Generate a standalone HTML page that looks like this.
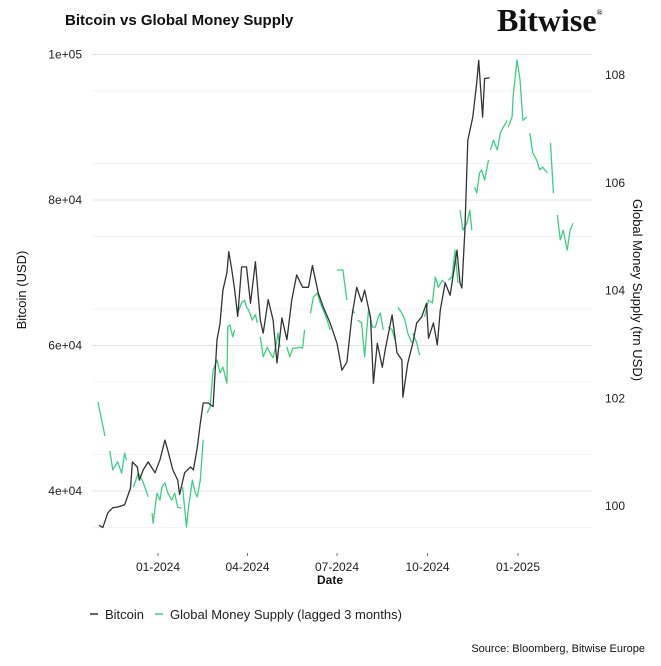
<!DOCTYPE html>
<html><head><meta charset="utf-8"><style>
body{margin:0;background:#fff;font-family:"Liberation Sans",Arial,sans-serif}
svg text{font-family:"Liberation Sans",Arial,sans-serif}
</style></head><body>
<svg id="c" width="661" height="661" viewBox="0 0 661 661">
<rect width="661" height="661" fill="#fff"/>
<text x="65" y="25" font-size="15" font-weight="bold" fill="#111">Bitcoin vs Global Money Supply</text>
<text x="497" y="31" font-size="32" font-weight="bold" fill="#111" style="font-family:'Liberation Serif',serif">Bitwise<tspan font-size="8" dy="-16">®</tspan></text>
<g id="grid"></g><g id="ms"></g><g id="btc"></g><g id="axes"></g>
<text x="330" y="584" font-size="12" font-weight="bold" text-anchor="middle" fill="#111">Date</text>
<text transform="translate(26,290) rotate(-90)" font-size="13" text-anchor="middle" fill="#111">Bitcoin (USD)</text>
<text transform="translate(633,290) rotate(90)" font-size="13" text-anchor="middle" fill="#111">Global Money Supply (trn USD)</text>
<g>
<line x1="90" y1="614" x2="98" y2="614" stroke="#333" stroke-width="1.5"/>
<text x="105" y="619" font-size="13" fill="#222">Bitcoin</text>
<line x1="155" y1="614" x2="163" y2="614" stroke="#3ecf83" stroke-width="1.5"/>
<text x="170" y="619" font-size="13" fill="#222">Global Money Supply (lagged 3 months)</text>
</g>
<text x="645" y="652" font-size="11" text-anchor="end" fill="#111">Source: Bloomberg, Bitwise Europe</text>
</svg>
<script>
const btcDays=[-60,-56,-51,-46,-41,-34,-28,-26,-21,-19,-15,-10,-3,2,7,10,15,20,22,27,33,36,40,43,46,51,56,60,63,66,70,72,75,78,81,85,90,94,99,104,107,112,117,121,126,131,136,141,147,153,157,163,168,175,182,187,192,197,202,207,210,216,219,223,228,231,238,243,248,249,254,259,263,268,273,275,280,284,287,292,297,302,304,307,309,312,315,320,324,326,330,332,337];
const btcVals=[35.3,35.0,37.0,37.7,37.8,38.1,40.4,44.0,43.3,41.5,42.9,44.0,42.5,44.3,47.0,45.6,42.9,41.5,39.5,42.5,43.3,42.9,46.0,49.3,52.1,52.1,51.6,60.8,63.0,67.6,70.0,72.9,70.4,67.6,64.0,70.8,70.8,65.8,71.5,63.5,61.7,66.3,63.5,57.6,63.8,60.8,66.3,69.7,68.0,68.0,71.0,67.2,65.3,63.1,60.3,56.6,57.7,63.9,68.0,66.0,67.6,63.9,54.8,60.3,57.0,59.4,64.2,59.0,58.0,52.9,57.6,60.3,63.1,63.9,65.8,61.0,63.1,60.1,64.9,68.6,66.9,71.3,73.1,68.6,67.9,75.9,88.2,91.4,96.1,99.2,91.4,96.7,96.8];
const msDays=[-61,-54,null,-49,-46,-41,-37,-34,-32,null,-25,-20,-16,-13,-10,null,-6,-5,-1,2,4,7,10,14,17,20,24,null,25,29,31,35,38,40,43,46,null,50,53,56,60,63,66,70,71,73,76,78,null,81,85,88,90,92,96,99,101,null,104,107,111,114,117,121,122,124,null,131,134,137,141,144,147,149,null,155,158,162,165,168,172,175,null,182,185,188,192,null,197,200,null,203,207,210,214,218,221,224,226,229,null,234,238,241,null,244,248,251,254,258,null,259,263,266,null,271,275,279,282,285,289,292,null,295,299,302,305,null,307,310,314,317,319,null,322,324,327,329,332,336,null,338,341,345,348,351,355,null,356,360,361,365,368,371,375,null,378,381,385,388,391,396,null,399,402,null,406,409,412,416,419,422];
const msVals=[101.93,101.30,null,101.02,100.67,100.82,100.61,100.98,100.85,null,100.35,100.61,100.48,100.33,100.17,null,99.87,99.68,100.24,100.11,100.35,100.43,100.24,100.11,100.24,99.98,99.96,null,100.35,99.61,99.98,100.48,100.24,100.17,100.48,101.23,null,101.73,101.84,102.52,102.71,102.47,102.58,102.28,103.32,103.36,103.14,103.27,null,103.58,103.77,103.82,103.69,103.64,103.45,103.55,103.40,null,103.14,102.77,102.95,102.84,102.75,103.08,103.21,102.95,null,102.95,102.77,102.93,102.93,102.95,102.93,103.27,null,103.58,103.88,103.95,103.77,103.64,103.45,103.27,null,104.38,104.38,104.38,103.82,null,103.64,103.58,null,103.45,103.40,102.77,103.64,103.32,103.32,103.51,103.58,103.27,null,103.32,103.27,103.08,null,103.69,103.58,103.45,103.21,103.03,null,103.21,103.03,102.80,null,103.51,103.82,103.77,104.25,104.06,104.19,104.14,null,104.19,104.25,104.75,104.14,null,105.49,105.12,105.25,105.49,105.12,null,105.92,105.81,106.18,106.24,106.05,106.42,null,106.61,106.79,106.61,106.92,107.03,107.16,null,107.03,107.22,107.59,108.28,107.91,107.16,107.22,null,106.92,106.55,106.42,106.24,106.29,106.18,null,106.74,105.81,null,105.40,104.94,105.12,104.75,105.12,105.25];
const leftTicks=[40,60,80,100];
const leftLabels=["4e+04","6e+04","8e+04","1e+05"];
const rightTicks=[100,102,104,106,108];
const xTickDays=[0,91,182,274,366];
const xTickLabels=["01-2024","04-2024","07-2024","10-2024","01-2025"];
const NS="http://www.w3.org/2000/svg";
const xS=d=>158+d*0.9836;
const yL=v=>491-(v-40)*7.275;
const yR=v=>506-(v-100)*53.875;
function mk(t,a,p){const e=document.createElementNS(NS,t);for(const k in a)e.setAttribute(k,a[k]);p.appendChild(e);return e;}
const grid=document.getElementById('grid'),axes=document.getElementById('axes');
for(let v=35;v<=100;v+=10){const l=mk('line',{x1:92,x2:592,y1:yL(v),y2:yL(v),stroke:'#f0f0f0','stroke-width':0.8},grid);

}
leftTicks.forEach((v,i)=>{const l=mk('line',{x1:92,x2:592,y1:yL(v),y2:yL(v),stroke:'#e4e4e4','stroke-width':1},grid);


const t=mk('text',{x:82,y:yL(v)+4,'font-size':12,'text-anchor':'end',fill:'#222'},axes);t.textContent=leftLabels[i];

});
rightTicks.forEach(v=>{const t=mk('text',{x:605,y:yR(v)+4,'font-size':12,fill:'#222'},axes);t.textContent=String(v);

});
xTickDays.forEach((d,i)=>{const m=mk('line',{x1:xS(d),x2:xS(d),y1:553,y2:556,stroke:'#555','stroke-width':0.8},axes);


const t=mk('text',{x:xS(d),y:571,'font-size':12,'text-anchor':'middle',fill:'#222'},axes);t.textContent=xTickLabels[i];

});
let d='';btcDays.forEach((dd,i)=>{d+=(i?'L':'M')+xS(dd).toFixed(1)+','+yL(btcVals[i]).toFixed(1);});
const bl=mk('path',{d:d,fill:'none',stroke:'#333','stroke-width':1.3,'stroke-linejoin':'round'},document.getElementById('btc'));


let m='',pen=false;msDays.forEach((dd,i)=>{if(dd===null||msVals[i]===null){pen=false;return;}m+=(pen?'L':'M')+xS(dd).toFixed(1)+','+yR(msVals[i]).toFixed(1);pen=true;});
const ml=mk('path',{d:m,fill:'none',stroke:'#3ecf83','stroke-width':1.3,'stroke-linejoin':'round'},document.getElementById('ms'));


</script>
</body></html>
